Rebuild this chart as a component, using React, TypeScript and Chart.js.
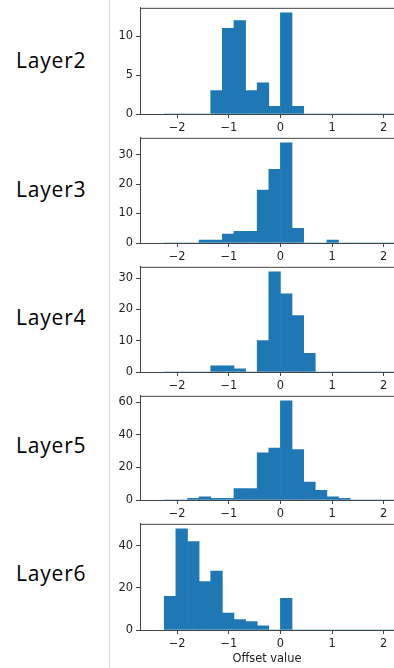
import { useEffect, useRef } from "react";
import { Chart, registerables } from "chart.js";

Chart.register(...registerables);

// ---- data ----
const LAYER_NAMES = ["Layer2", "Layer3", "Layer4", "Layer5", "Layer6"];
const BIN_EDGES = [
  -2.25, -2.025, -1.8, -1.575, -1.35, -1.125, -0.9, -0.675, -0.45, -0.225, 0,
  0.225, 0.45, 0.675, 0.9, 1.125, 1.35, 1.575, 1.8, 2.025, 2.25,
];
const LAYER2_COUNTS = [0, 0, 0, 0, 3, 11, 12, 3, 4, 1, 13, 1, 0, 0, 0, 0, 0, 0, 0, 0];
const LAYER3_COUNTS = [0, 0, 0, 1, 1, 3, 4, 4, 18, 25, 34, 5, 0, 0, 1, 0, 0, 0, 0, 0];
const LAYER4_COUNTS = [0, 0, 0, 0, 2, 2, 1, 0, 10, 32, 25, 18, 6, 0, 0, 0, 0, 0, 0, 0];
const LAYER5_COUNTS = [0, 0, 1, 2, 1, 1, 7, 7, 29, 32, 61, 31, 11, 6, 2, 1, 0, 0, 0, 0];
const LAYER6_COUNTS = [16, 48, 42, 23, 28, 8, 5, 4, 2, 0, 15, 0, 0, 0, 0, 0, 0, 0, 0, 0];
const ALL_COUNTS = [LAYER2_COUNTS, LAYER3_COUNTS, LAYER4_COUNTS, LAYER5_COUNTS, LAYER6_COUNTS];

const X_TICKS = [-2, -1, 0, 1, 2];
const X_MIN = -2.72;
const X_MAX = 2.2;
const Y_TICKS = [
  [0, 5, 10],
  [0, 10, 20, 30],
  [0, 10, 20, 30],
  [0, 20, 40, 60],
  [0, 20, 40],
];
const Y_MAX = [13.65, 35.7, 33.6, 64.05, 50.4];
const X_AXIS_TITLE = "Offset value";

// ---- layout / style ----
const PLOT_TOPS = [6, 136, 265, 394, 522];
const PLOT_BOTTOMS = [114, 243, 372, 500, 630];
const LABEL_CENTERS = [60.6, 189.5, 318, 446, 574];
const CANVAS_LEFT = 110;
const CANVAS_WIDTH = 284;
const TOP_PAD = 8;
const BAR_COLOR = "#1f77b4";
const AXIS_COLOR = "#444444";
const TEXT_COLOR = "#222222";
const TICK_FONT = { family: "DejaVu Sans", size: 11.4 };

const fmt = (v: number | string) => {
  const n = Number(v);
  return n < 0 ? "\u2212" + String(Math.abs(n)) : String(n);
};

const frameTop = {
  id: "frameTop",
  afterDraw(chart: any) {
    const { ctx, chartArea } = chart;
    ctx.save();
    ctx.strokeStyle = AXIS_COLOR;
    ctx.lineWidth = 1;
    ctx.beginPath();
    ctx.moveTo(chartArea.left, chartArea.top + 0.5);
    ctx.lineTo(chartArea.right, chartArea.top + 0.5);
    ctx.stroke();
    ctx.restore();
  },
};

function Panel({ idx }: { idx: number }) {
  const ref = useRef<HTMLCanvasElement>(null);
  const isLast = idx === ALL_COUNTS.length - 1;
  const plotH = PLOT_BOTTOMS[idx] - PLOT_TOPS[idx];
  const canvasTop = PLOT_TOPS[idx] - TOP_PAD;
  const canvasH = isLast ? 668 - canvasTop : TOP_PAD + plotH + 22;
  const xAxisH = canvasH - TOP_PAD - plotH;

  useEffect(() => {
    if (!ref.current) return;
    const counts = ALL_COUNTS[idx];
    const data = counts.map((c, i) => ({
      x: (BIN_EDGES[i] + BIN_EDGES[i + 1]) / 2,
      y: c,
    }));
    const chart = new Chart(ref.current, {
      type: "bar",
      data: {
        datasets: [
          {
            data,
            backgroundColor: BAR_COLOR,
            borderWidth: 0,
            barPercentage: 1,
            categoryPercentage: 1,
            grouped: false,
          } as any,
        ],
      },
      options: {
        animation: false,
        responsive: false,
        maintainAspectRatio: false,
        devicePixelRatio: 1,
        layout: { padding: { top: TOP_PAD, left: 0, right: 0, bottom: 0 } },
        plugins: {
          legend: { display: false },
          tooltip: { enabled: false },
        },
        scales: {
          x: {
            type: "linear",
            min: X_MIN,
            max: X_MAX,
            offset: false,
            grid: {
              offset: false,
              drawOnChartArea: false,
              drawTicks: true,
              tickLength: 4,
              tickColor: AXIS_COLOR,
              tickWidth: 1,
            },
            border: { color: AXIS_COLOR, width: 1 },
            ticks: {
              font: TICK_FONT,
              color: TEXT_COLOR,
              padding: 3,
              maxRotation: 0,
              autoSkip: false,
              callback: (v: any) => fmt(v),
            },
            afterBuildTicks: (s: any) => {
              s.ticks = X_TICKS.map((v) => ({ value: v }));
            },
            afterFit: (s: any) => {
              s.height = xAxisH;
            },
            title: {
              display: isLast,
              text: X_AXIS_TITLE,
              font: TICK_FONT,
              color: TEXT_COLOR,
              padding: { top: 0, bottom: 2 },
            },
          },
          y: {
            type: "linear",
            min: 0,
            max: Y_MAX[idx],
            grid: {
              offset: false,
              drawOnChartArea: false,
              drawTicks: true,
              tickLength: 4,
              tickColor: AXIS_COLOR,
              tickWidth: 1,
            },
            border: { color: AXIS_COLOR, width: 1 },
            ticks: {
              font: TICK_FONT,
              color: TEXT_COLOR,
              padding: 3,
              autoSkip: false,
              callback: (v: any) => fmt(v),
            },
            afterBuildTicks: (s: any) => {
              s.ticks = Y_TICKS[idx].map((v) => ({ value: v }));
            },
            afterFit: (s: any) => {
              s.width = 30;
            },
          },
        },
      } as any,
      plugins: [frameTop],
    });
    return () => chart.destroy();
  }, [idx]);

  return (
    <canvas
      ref={ref}
      width={CANVAS_WIDTH}
      height={canvasH}
      style={{
        position: "absolute",
        left: CANVAS_LEFT,
        top: canvasTop,
        width: CANVAS_WIDTH,
        height: canvasH,
        display: "block",
      }}
    />
  );
}

export default function App() {
  return (
    <div
      style={{
        position: "fixed",
        left: 0,
        top: 0,
        width: 394,
        height: 668,
        background: "#ffffff",
        overflow: "hidden",
      }}
    >
      <div
        style={{
          position: "absolute",
          left: 109,
          top: 0,
          width: 1,
          height: 668,
          background: "#d6d6d6",
        }}
      />
      {LAYER_NAMES.map((name, i) => (
        <div
          key={name}
          style={{
            position: "absolute",
            left: 16,
            top: LABEL_CENTERS[i] - 11,
            fontFamily: "'Open Sans', sans-serif",
            fontSize: 21,
            lineHeight: "21px",
            color: "#000",
            letterSpacing: "0.8px",
            whiteSpace: "nowrap",
          }}
        >
          {name}
        </div>
      ))}
      {LAYER_NAMES.map((name, i) => (
        <Panel key={name + "-chart"} idx={i} />
      ))}
    </div>
  );
}
